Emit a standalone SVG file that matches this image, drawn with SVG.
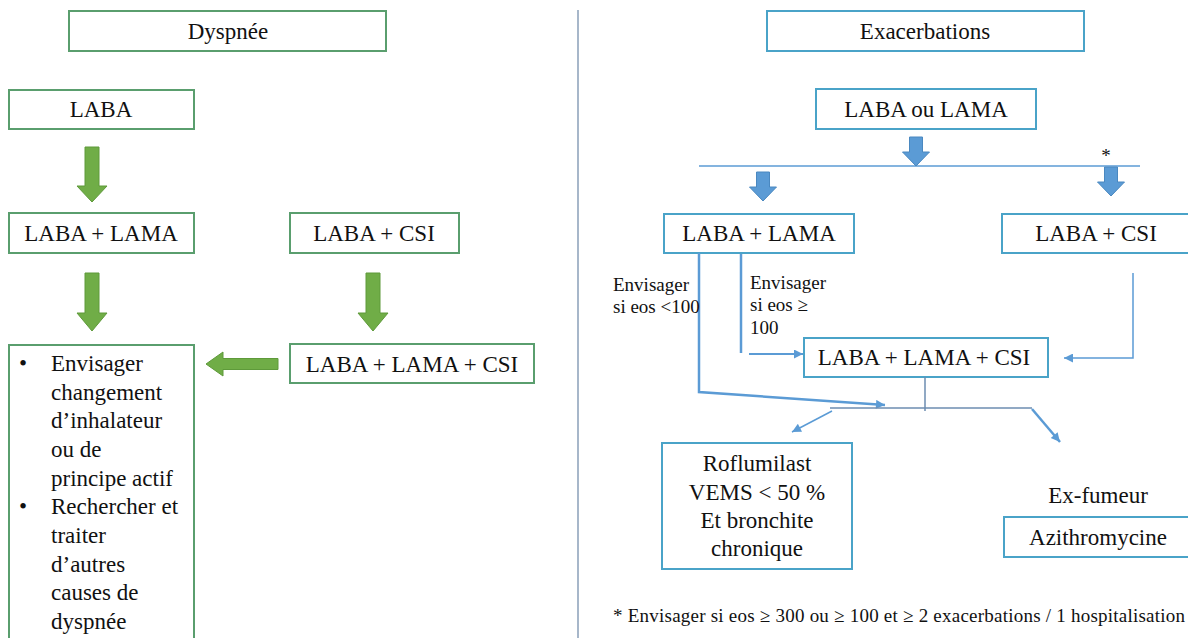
<svg xmlns="http://www.w3.org/2000/svg" width="1188" height="638" viewBox="0 0 1188 638">
<defs>
<style>
text{font-family:"Liberation Serif","Times New Roman",serif;fill:#111;}
.t{font-size:23px;text-anchor:middle;}
.tl{font-size:23px;}
.s{font-size:19px;}
.gb{fill:#fff;stroke:#5a9e6e;stroke-width:2;}
.bb{fill:#fff;stroke:#4aa3c8;stroke-width:2;}
.ga{fill:#70ad47;stroke:#5e9a3a;stroke-width:1;}
.ba{fill:#5b9bd5;stroke:#4a88c0;stroke-width:1;}
.c{fill:none;stroke:#5b9bd5;}
.j{fill:none;stroke:#6d8db0;stroke-width:1.5;}
</style>
<marker id="ah" viewBox="0 0 10 10" refX="10" refY="5" markerWidth="11" markerHeight="9" markerUnits="userSpaceOnUse" orient="auto">
<path d="M0,0 L10,5 L0,10 z" fill="#5b9bd5"/>
</marker>
</defs>
<rect width="1188" height="638" fill="#fff"/>
<line x1="578" y1="10" x2="578" y2="638" stroke="#8a9fb8" stroke-width="1.5"/>

<g id="dyspnee"><rect class="gb" x="69" y="11" width="317" height="40"/><text class="t" x="228" y="39">Dyspnée</text></g>
<g id="laba"><rect class="gb" x="9" y="90" width="185" height="39"/><text class="t" x="101" y="117">LABA</text></g>
<g id="laba-lama-l"><rect class="gb" x="9" y="213" width="185" height="40"/><text class="t" x="101" y="241">LABA + LAMA</text></g>
<g id="laba-csi-l"><rect class="gb" x="290" y="213" width="169" height="40"/><text class="t" x="374" y="241">LABA + CSI</text></g>
<g id="triple-l"><rect class="gb" x="290" y="344" width="244" height="39"/><text class="t" x="412" y="372">LABA + LAMA + CSI</text></g>
<g id="envisager"><rect class="gb" x="9" y="345" width="185" height="300"/>
<text class="tl" x="19" y="371">•</text>
<text class="tl" x="51" y="371">Envisager</text>
<text class="tl" x="51" y="400">changement</text>
<text class="tl" x="51" y="428">d’inhalateur</text>
<text class="tl" x="51" y="457">ou de</text>
<text class="tl" x="51" y="486">principe actif</text>
<text class="tl" x="19" y="514">•</text>
<text class="tl" x="51" y="514">Rechercher et</text>
<text class="tl" x="51" y="543">traiter</text>
<text class="tl" x="51" y="572">d’autres</text>
<text class="tl" x="51" y="600">causes de</text>
<text class="tl" x="51" y="629">dyspnée</text>
</g>

<g id="exacerbations"><rect class="bb" x="767" y="11" width="317" height="40"/><text class="t" x="925" y="39">Exacerbations</text></g>
<g id="laba-ou-lama"><rect class="bb" x="816" y="89" width="220" height="40"/><text class="t" x="926" y="117">LABA ou LAMA</text></g>
<g id="laba-lama-r"><rect class="bb" x="664" y="214" width="190" height="39"/><text class="t" x="759" y="241">LABA + LAMA</text></g>
<g id="laba-csi-r"><rect class="bb" x="1002" y="214" width="200" height="39"/><text class="t" x="1096" y="241">LABA + CSI</text></g>
<g id="triple-r"><rect class="bb" x="804" y="338" width="244" height="39"/><text class="t" x="924" y="365">LABA + LAMA + CSI</text></g>
<g id="roflumilast"><rect class="bb" x="662" y="443" width="190" height="126"/>
<text class="t" x="757" y="471">Roflumilast</text>
<text class="t" x="757" y="500">VEMS &lt; 50 %</text>
<text class="t" x="757" y="528">Et bronchite</text>
<text class="t" x="757" y="556">chronique</text>
</g>
<g id="ex-fumeur"><text class="t" x="1098" y="503">Ex-fumeur</text></g>
<g id="azithromycine"><rect class="bb" x="1004" y="517" width="200" height="40"/><text class="t" x="1098" y="545">Azithromycine</text></g>
<g id="footnote"><text class="s" x="613" y="622" textLength="572" lengthAdjust="spacing">* Envisager si eos ≥ 300 ou ≥ 100 et ≥ 2 exacerbations / 1 hospitalisation</text></g>

<g id="connectors">
<path class="ga" d="M85,147 H99 V186 H107 L92,202 L77,186 H85 Z"/>
<path class="ga" d="M85,273 H99 V313 H107 L92,331 L77,313 H85 Z"/>
<path class="ga" d="M366,273 H380 V313 H388 L373,331 L358,313 H366 Z"/>
<path class="ga" d="M278,358.5 V369.5 H223 V376 L206,364 L223,352 V358.5 Z"/>

<line x1="699" y1="166" x2="1140" y2="166" stroke="#5b9bd5" stroke-width="1.5"/>
<path class="ba" d="M909.5,137 H922.5 V152 H929.5 L916,166 L902.5,152 H909.5 Z"/>
<path class="ba" d="M756.5,172 H769.5 V187 H776.5 L763,201 L749.5,187 H756.5 Z"/>
<path class="ba" d="M1104.5,167 H1117.5 V182 H1124.5 L1111,196 L1097.5,182 H1104.5 Z"/>
<text class="s" x="1106" y="162" text-anchor="middle">*</text>

<polyline class="c" stroke-width="2.5" points="699,253 699,392 885,405" marker-end="url(#ah)"/>
<line class="c" stroke-width="2.5" x1="741" y1="254" x2="741" y2="353"/>
<line class="c" stroke-width="2" x1="749" y1="354" x2="803" y2="354" marker-end="url(#ah)"/>
<polyline class="c" stroke-width="1.5" points="1133,273 1133,358 1064,358" marker-end="url(#ah)"/>
<line class="j" x1="925" y1="377" x2="925" y2="411"/>
<line class="j" x1="830" y1="408" x2="1032" y2="408"/>
<line class="c" stroke-width="1.5" x1="832" y1="411" x2="792" y2="432" marker-end="url(#ah)"/>
<line class="c" stroke-width="2.5" x1="1032" y1="409" x2="1060" y2="442" marker-end="url(#ah)"/>

<text class="s" x="613" y="291">Envisager</text>
<text class="s" x="613" y="313">si eos &lt;100</text>
<text class="s" x="750" y="289">Envisager</text>
<text class="s" x="750" y="311">si eos ≥</text>
<text class="s" x="750" y="334">100</text>
</g>
</svg>
